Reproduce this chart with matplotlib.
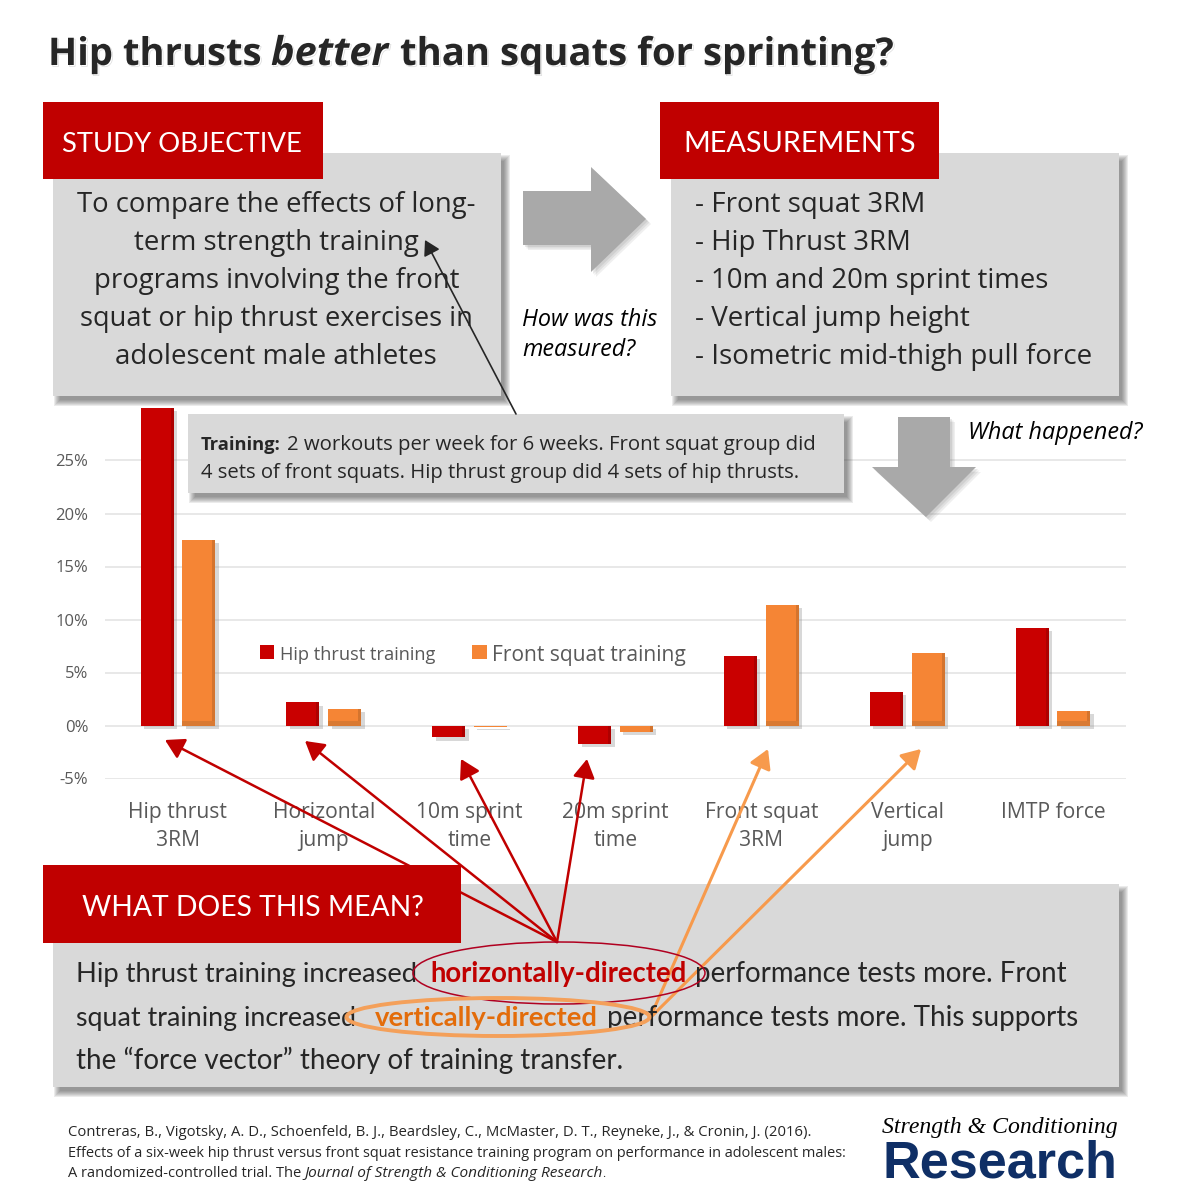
import numpy as np
import matplotlib
matplotlib.use("Agg")
import matplotlib.pyplot as plt
from matplotlib.patches import Rectangle, Polygon, Ellipse
import matplotlib.patheffects as pe

categories = ["Hip thrust\n3RM", "Horizontal\njump", "10m sprint\ntime", "20m sprint\ntime",
              "Front squat\n3RM", "Vertical\njump", "IMTP force"]
hip_thrust = [30.0, 2.2, -1.1, -1.7, 6.6, 3.2, 9.2]
front_squat = [17.5, 1.6, -0.1, -0.6, 11.4, 6.8, 1.4]
y_ticks = [-5, 0, 5, 10, 15, 20, 25, 30]
y_labels = ["-5%", "0%", "5%", "10%", "15%", "20%", "25%", ""]

RED = "#c00000"
BAR_RED = "#c90000"
ORANGE = "#f58535"
GREY = "#d9d9d9"
INK = "#262626"
SANS = "Open Sans"
CAL = "Lato"

fig = plt.figure(figsize=(12, 12), dpi=100, facecolor="white")

# ---- chart
cx = fig.add_axes([105 / 1200, 1 - 778.5 / 1200, (1126 - 105) / 1200, (778.5 - 407.5) / 1200])
cx.set_xlim(-0.5, 6.5)
cx.set_ylim(-5, 30)
cx.set_yticks(y_ticks, y_labels, fontsize=12, color="#595959", family=SANS)
x = np.arange(len(categories))
cx.set_xticks(x, categories, fontsize=15.2, color="#595959", family=SANS, linespacing=1.4)
cx.tick_params(axis="both", length=0)
cx.tick_params(axis="x", pad=17)
cx.tick_params(axis="y", pad=12)
cx.grid(axis="y", color="#e4e4e4", lw=1.2)
cx.set_axisbelow(True)
for s in cx.spines.values():
    s.set_visible(False)
w, off = 0.226, 0.143
shadow = [pe.withSimplePatchShadow(offset=(2.5, -2.5), shadow_rgbFace="#909090", alpha=0.35), pe.Normal()]
for vals, dx, col, dark in [(hip_thrust, -off, BAR_RED, "#ad0000"), (front_squat, off, ORANGE, "#d4742e")]:
    vals = np.array(vals)
    cx.bar(x + dx, vals, w, color=col, path_effects=shadow, zorder=3)
    keep = np.abs(vals) > 0.2
    cx.bar((x + dx + w / 2 - 0.01)[keep], vals[keep], 0.02, color=dark, zorder=4)
up = np.array(front_squat) > 0
cx.bar((x + off)[up], np.minimum(np.array(front_squat)[up], 0.4), w, color="#d97a33", zorder=4)

# ---- overlay, in pixel coordinates of the picture
ax = fig.add_axes([0, 0, 1, 1], zorder=5)
ax.set_xlim(0, 1200)
ax.set_ylim(1200, 0)
ax.axis("off")
ax.patch.set_alpha(0)
fig.canvas.draw()
rend = fig.canvas.get_renderer()


def fit(x0, x1, y, s, color=INK, family=SANS, z=10, fx=None, **kw):
    t = ax.text(x0, y, s, ha="left", va="baseline", color=color, family=family, fontsize=20, zorder=z, **kw)
    wd = t.get_window_extent(rend).width
    t.set_fontsize(20 * (x1 - x0) / wd)
    if fx:
        t.set_path_effects(fx)
    return t


def box(x0, y0, x1, y1, col=GREY, z=2, sh=True):
    if sh:
        for g in (4, 3, 2, 1, 0, -1, -2):
            ax.add_patch(Rectangle((x0 + 5 - g, y0 + 6 - g), x1 - x0 + 2 * g, y1 - y0 + 2 * g,
                                   fc="#404040", ec="none", alpha=0.10, zorder=z))
    ax.add_patch(Rectangle((x0, y0), x1 - x0, y1 - y0, fc=col, ec="none", zorder=z + 0.5))


def poly(pts, z=3):
    for d, a in [(5, 0.12), (3.5, 0.14), (2, 0.16)]:
        ax.add_patch(Polygon(np.array(pts) + [d, d], fc="#808080", ec="none", alpha=a, zorder=z))
    ax.add_patch(Polygon(pts, fc="#a9a9a9", ec="none", zorder=z + 0.5))


def arrow(a, b, col, lw=1.8, z=8, ms=19):
    ax.annotate("", xy=b, xytext=a, zorder=z,
                arrowprops=dict(arrowstyle="-|>,head_length=0.6,head_width=0.35", color=col, lw=lw,
                                shrinkA=0, shrinkB=0, mutation_scale=ms))


# title
tfx = [pe.SimpleLineShadow(offset=(1.0, -1.0), shadow_color="#999999", alpha=0.35, linewidth=0.5), pe.Normal()]
fit(48, 261, 65, "Hip thrusts", weight="bold", color="#262626", fx=tfx)
fit(271, 388, 65, "better", weight="bold", style="italic", color="#262626", fx=tfx)
fit(400, 893, 65, "than squats for sprinting?", weight="bold", color="#262626", fx=tfx)

# upper boxes
box(53, 153, 501, 396)
box(671, 153, 1119, 396)
box(43, 102, 323, 179, RED, z=4, sh=False)
box(660, 102, 939, 179, RED, z=4, sh=False)
fit(62, 302, 152, "STUDY OBJECTIVE", color="white", family=CAL)
fit(683, 915, 152, "MEASUREMENTS", color="white", family=CAL)
for s, a, b, y in [("To compare the effects of long-", 77, 475, 212),
                   ("term strength training", 134, 418, 250),
                   ("programs involving the front", 94, 459, 288),
                   ("squat or hip thrust exercises in", 80, 472, 326),
                   ("adolescent male athletes", 115, 437, 364),
                   ("- Front squat 3RM", 695, 925, 212),
                   ("- Hip Thrust 3RM", 695, 911, 250),
                   ("- 10m and 20m sprint times", 695, 1048, 288),
                   ("- Vertical jump height", 695, 970, 326),
                   ("- Isometric mid-thigh pull force", 695, 1091, 364)]:
    fit(a, b, y, s)

# block arrows
poly([(523, 191), (591, 191), (591, 167), (646, 219), (591, 272), (591, 245), (523, 245)])
poly([(898, 417), (950, 417), (950, 467), (976, 467), (926, 517), (872, 467), (898, 467)])
fit(522, 657, 326, "How was this", style="italic", color="black")
fit(522, 635, 356, "measured?", style="italic", color="black")
fit(968, 1142, 439, "What happened?", style="italic", color="black")

# training box
box(188, 414, 844, 493)
fit(201, 281, 450, "Training:", weight="bold")
fit(287, 817, 450, "2 workouts per week for 6 weeks. Front squat group did")
fit(201, 799, 478, "4 sets of front squats. Hip thrust group did 4 sets of hip thrusts.")
arrow((516, 414), (425, 240), "#262626", lw=1.2, ms=15)

# legend
for a, b, c in [(260, 274, BAR_RED), (472, 487, ORANGE)]:
    ax.add_patch(Rectangle((a, 645), b - a, 14, fc=c, ec="none", zorder=3))
fit(280, 436, 660, "Hip thrust training", color="#595959")
fit(492, 685, 661, "Front squat training", color="#595959")

# bottom box
box(53, 884, 1119, 1087)
for s, a, b, y, c, wt in [("Hip thrust training increased", 76, 420, 982, INK, "normal"),
                          ("horizontally-directed", 430, 687, 982, "#c00000", "bold"),
                          ("performance tests more. Front", 695, 1067, 982, INK, "normal"),
                          ("squat training increased", 76, 357, 1026, INK, "normal"),
                          ("vertically-directed", 375, 598, 1026, "#e36c0a", "bold"),
                          ("performance tests more. This supports", 607, 1077, 1026, INK, "normal"),
                          ("the \u201cforce vector\u201d theory of training transfer.", 76, 622, 1069, INK, "normal")]:
    fit(a, b, y, s, color=c, weight=wt, family=CAL)
ax.add_patch(Ellipse((559, 973), 292, 62, fc="none", ec="#b00020", lw=1.1, zorder=11))
ax.add_patch(Ellipse((498, 1017), 303, 38, fc="none", ec="#f4a05a", lw=2.8, zorder=11))

for b in [(165, 740), (305, 741), (461, 759), (587, 759)]:
    arrow((557, 942), b, "#c00000", z=3.2)
for b in [(768, 749), (921, 749)]:
    arrow((650, 1018), b, "#f79a4c", lw=2.2, z=9)

box(43, 865, 461, 943, RED, z=4, sh=False)
fit(82, 422, 916, "WHAT DOES THIS MEAN?", color="white", family=CAL)

# citation
cit = "#262626"
fit(68, 809, 1136, "Contreras, B., Vigotsky, A. D., Schoenfeld, B. J., Beardsley, C., McMaster, D. T., Reyneke, J., & Cronin, J. (2016).", color=cit)
fit(68, 846, 1157, "Effects of a six-week hip thrust versus front squat resistance training program on performance in adolescent males:", color=cit)
fit(68, 300, 1177, "A randomized-controlled trial. The", color=cit)
fit(304, 602, 1177, "Journal of Strength & Conditioning Research", color=cit, style="italic")
fit(602, 605, 1177, ".", color=cit)

# logo
fit(882, 1117, 1133, "Strength & Conditioning", color="black", family="Liberation Serif", style="italic")
fit(882, 1117, 1177, "Research", color="#0f2f66", family="Liberation Sans", weight="bold")

fig.savefig("out.png", dpi=100, facecolor="white")
